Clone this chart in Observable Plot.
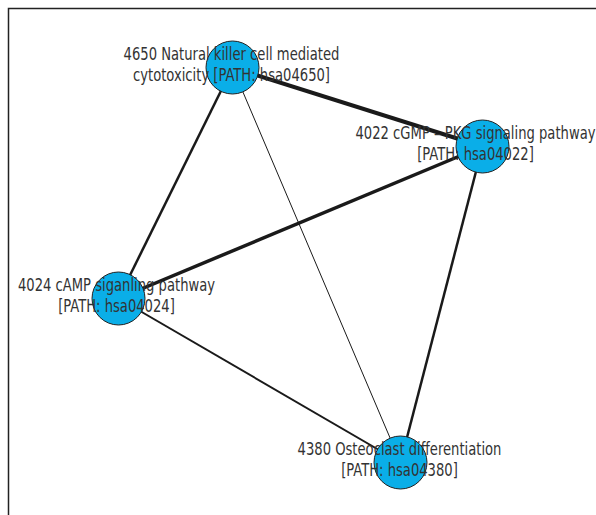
<!DOCTYPE html>
<html>
<head>
<meta charset="utf-8">
<script src="https://cdn.jsdelivr.net/npm/d3@7"></script>
<script src="https://cdn.jsdelivr.net/npm/@observablehq/plot@0.6"></script>
<style>
  html, body { margin: 0; padding: 0; background: #fff; overflow: hidden; }
  #chart svg { display: block; max-width: none !important; }
</style>
</head>
<body>
<div id="chart"></div>
<script>
// Pathway network: nodes are KEGG pathways, edges weighted by shared genes.
const nodeIds = ["hsa04650", "hsa04022", "hsa04024", "hsa04380"];
const nodeLabels = [
  "4650 Natural killer cell mediated\ncytotoxicity [PATH: hsa04650]",
  "4022 cGMP – PKG signaling pathway\n[PATH: hsa04022]",
  "4024 cAMP siganling pathway\n[PATH: hsa04024]",
  "4380 Osteoclast differentiation\n[PATH: hsa04380]"
];
// layout coordinates of each node, and the horizontal nudge of its label
const layoutX = [224, 474, 110, 392];
const layoutY = [59, 138, 290, 454];
const labelNudge = [-1, -7, -2, -1];

const edgeSource = ["hsa04650", "hsa04022", "hsa04650", "hsa04022", "hsa04024", "hsa04650"];
const edgeTarget = ["hsa04022", "hsa04024", "hsa04024", "hsa04380", "hsa04380", "hsa04380"];
const edgeWeight = [4, 3.5, 2.5, 2.5, 2, 1];

const nodes = nodeIds.map((id, i) => ({
  id, label: nodeLabels[i], x: layoutX[i], y: layoutY[i], lx: layoutX[i] + labelNudge[i]
}));
const byId = new Map(nodes.map(n => [n.id, n]));
const edges = edgeSource.map((s, i) => ({
  x1: byId.get(s).x, y1: byId.get(s).y,
  x2: byId.get(edgeTarget[i]).x, y2: byId.get(edgeTarget[i]).y,
  w: edgeWeight[i]
}));

const chart = Plot.plot({
  width: 620,
  height: 540,
  marginTop: 8,
  marginLeft: 8,
  marginRight: 0,
  marginBottom: 0,
  x: {domain: [0, 612], range: [8, 620], axis: null},
  y: {domain: [0, 532], range: [8, 540], axis: null},
  style: {fontFamily: "'DejaVu Sans Condensed', 'DejaVu Sans', sans-serif", maxWidth: "none"},
  marks: [
    Plot.frame({stroke: "#222", strokeWidth: 1.5}),
    Plot.link(edges, {
      x1: "x1", y1: "y1", x2: "x2", y2: "y2",
      stroke: "#1a1a1a",
      strokeWidth: "w"
    }),
    Plot.dot(nodes, {x: "x", y: "y", r: 26.5, fill: "#0aaee8", stroke: "#222", strokeWidth: 1}),
    Plot.text(nodes, {
      x: "lx", y: "y",
      text: "label",
      dy: -4,
      fontSize: 17,
      lineHeight: 1.24,
      fill: "#333",
      className: "node-label"
    })
  ]
});
chart.style.maxWidth = "none";
chart.style.height = "540px";

// narrow the label glyphs horizontally to a condensed width
chart.querySelectorAll(".node-label text").forEach(t => {
  const tr = t.getAttribute("transform") || "";
  const x = t.getAttribute("x");
  const y = t.getAttribute("y");
  let base = tr;
  if (x != null || y != null) {
    base = `${tr} translate(${x || 0},${y || 0})`;
    t.removeAttribute("x");
    t.removeAttribute("y");
  }
  t.setAttribute("transform", `${base} scale(0.86,1)`);
});
document.getElementById("chart").append(chart);
</script>
</body>
</html>
